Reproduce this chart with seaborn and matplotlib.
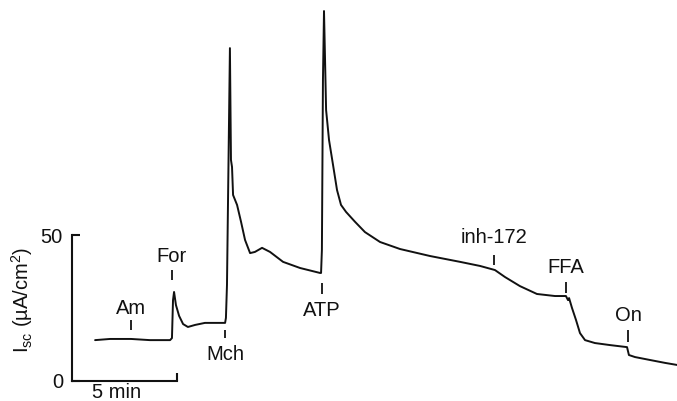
import matplotlib
matplotlib.use("Agg")
import matplotlib.pyplot as plt
import seaborn as sns
import pandas as pd

# Trace data: time (min) and short-circuit current (µA/cm²)
time_min = [1.10, 1.81, 2.81, 3.71, 4.67, 4.76, 4.81, 4.86, 4.95, 5.10, 5.29, 5.52, 5.86, 6.33,
            7.29, 7.33, 7.38, 7.43, 7.52, 7.57, 7.62, 7.67, 7.86, 8.05, 8.24, 8.48, 8.71, 9.05,
            9.43, 10.05, 10.86, 11.81, 11.86, 11.90, 11.95, 12.00, 12.05, 12.10, 12.24, 12.43,
            12.62, 12.81, 13.05, 13.48, 13.95, 14.67, 15.62, 17.05, 18.48, 19.43, 20.14, 20.62,
            21.33, 22.14, 23.00, 23.52, 23.62, 23.67, 23.81, 24.00, 24.19, 24.43, 24.90, 25.62,
            26.43, 26.52, 26.81, 27.52, 28.24, 28.81]
isc = [14.0, 14.4, 14.4, 14.0, 14.0, 14.7, 27.7, 30.5, 26.0, 22.3, 19.5, 18.5, 19.2, 19.9,
       19.9, 21.6, 32.9, 62.0, 114.0, 75.7, 73.3, 63.7, 60.3, 54.5, 48.3, 43.8, 44.2, 45.6,
       44.2, 40.8, 38.7, 37.0, 37.0, 44.9, 103.1, 126.7, 109.9, 92.8, 82.5, 74.0,
       65.4, 60.3, 57.9, 54.5, 51.0, 47.6, 45.2, 42.8, 40.8, 39.4, 38.0, 35.6,
       32.5, 29.8, 29.1, 29.1, 27.7, 28.4, 25.0, 20.9, 16.4, 14.0, 13.0, 12.3,
       11.6, 8.9, 8.2, 7.2, 6.2, 5.5]

# Drug additions
events = ["Am", "For", "Mch", "ATP", "inh-172", "FFA", "On"]
event_times = [2.81, 4.76, 7.29, 11.90, 20.10, 23.52, 26.48]

y_ticks = [0, 50]
y_tick_labels = ["0", "50"]
time_bar = 5  # min

# --- layout/styling ---
W, H = 677, 401
sns.set_theme(style="white")
plt.rcParams['font.family'] = ['Liberation Sans', 'DejaVu Sans']
plt.rcParams['mathtext.fontset'] = 'custom'
plt.rcParams['mathtext.rm'] = 'Liberation Sans'
plt.rcParams['mathtext.it'] = 'Liberation Sans'

FS = 14.5
INK = "#111111"
fig = plt.figure(figsize=(W / 100, H / 100), dpi=100)
x0_px, y0_px = 72, 381
px_per_min = 105 / 5
px_per_ua = 146 / 50
ax = fig.add_axes([x0_px / W, (H - y0_px) / H, 1 - x0_px / W, y0_px / H])
ax.set_xlim(0, (W - x0_px) / px_per_min)
ax.set_ylim(0, y0_px / px_per_ua)

df = pd.DataFrame({"t": time_min, "I": isc})
sns.lineplot(data=df, x="t", y="I", ax=ax, color=INK, lw=1.4,
             estimator=None, sort=False, clip_on=False)

# Scale-bar style axes
for s in ["top", "right"]:
    ax.spines[s].set_visible(False)
for s in ["left", "bottom"]:
    ax.spines[s].set_color(INK)
    ax.spines[s].set_linewidth(1.5)
ax.spines["left"].set_bounds(0, 50)
ax.spines["bottom"].set_bounds(0, time_bar)
ax.set_yticks(y_ticks)
ax.set_yticklabels(y_tick_labels, fontsize=FS)
ax.set_xticks([time_bar])
ax.set_xticklabels([""])
ax.tick_params(axis="both", direction="in", length=6, width=1.5, color=INK,
               left=True, bottom=True, pad=6.5, labelcolor=INK)
ax.set_xlabel("")
ax.set_ylabel("")
ax.patch.set_alpha(0)

fig.text(117 / W, 1 - 393 / H, "5 min", ha="center", va="center", fontsize=FS, color=INK)
fig.text(22 / W, 1 - 300 / H, r"I$_{\mathrm{sc}}$ (µA/cm$^{2}$)", rotation=90,
         ha="center", va="center", fontsize=FS, color=INK)

# Event marks: (tick bottom, tick top, label y) in µA/cm² units
marks = {
    "Am": (17.5, 20.9, 25.0),
    "For": (34.6, 38.0, 42.8),
    "Mch": (14.7, 17.5, 9.2),
    "ATP": (29.8, 33.6, 24.0),
    "inh-172": (39.7, 43.2, 49.0),
    "FFA": (30.1, 33.9, 39.0),
    "On": (13.4, 17.5, 22.3),
}
for name, t in zip(events, event_times):
    lo, hi, ly = marks[name]
    ax.vlines(t, lo, hi, color=INK, lw=1.3)
    ax.text(t, ly, name, ha="center", va="center", fontsize=FS, color=INK)

fig.savefig("out.png", dpi=100)
